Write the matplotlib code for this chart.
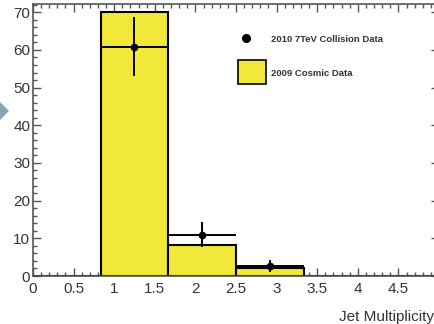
import matplotlib
matplotlib.use("Agg")
import matplotlib.pyplot as plt
from matplotlib.patches import Polygon, Rectangle
from matplotlib.lines import Line2D
from matplotlib.ticker import MultipleLocator

plt.rcParams['font.family'] = ['Liberation Sans', 'DejaVu Sans']

# histogram of 2009 cosmic data (6 bins over 0..5)
bin_edges = [0.0, 0.833, 1.667, 2.5, 3.333, 4.167, 5.0]
cosmic = [0, 70, 8.2, 2.0, 0, 0]

# 2010 7TeV collision data points
coll_x = [1.25, 2.083, 2.917]
coll_y = [60.8, 10.9, 2.7]
coll_err = [7.8, 3.3, 1.6]
coll_xerr = [0.417, 0.417, 0.417]

legend_labels = ['2010 7TeV Collision Data', '2009 Cosmic Data']

W, H = 435, 324
fig = plt.figure(figsize=(W / 100, H / 100), dpi=100)
ax = fig.add_axes([33 / W, 1 - 276 / H, (439 - 33) / W, (276 - 4.3) / H])

ink = '#333333'
yellow = '#f1e83a'
widths = [bin_edges[i + 1] - bin_edges[i] for i in range(len(cosmic))]
ax.bar(bin_edges[:-1], cosmic, width=widths, align='edge',
       color=yellow, edgecolor='black', linewidth=1.5, zorder=2)
ax.errorbar(coll_x, coll_y, xerr=coll_xerr, yerr=coll_err, fmt='o',
            color='black', ms=4.5, elinewidth=1.4, capsize=0, zorder=3)

ax.set_xlim(0, 5)
ax.set_ylim(0, 72.1)
ax.xaxis.set_minor_locator(MultipleLocator(0.1))
ax.yaxis.set_major_locator(MultipleLocator(10))
ax.yaxis.set_minor_locator(MultipleLocator(2))
ax.set_xticks([0, 0.5, 1, 1.5, 2, 2.5, 3, 3.5, 4, 4.5])
ax.set_xticklabels(['0', '0.5', '1', '1.5', '2', '2.5', '3', '3.5', '4', '4.5'])
ax.tick_params(which='both', direction='in', top=True, right=True,
               colors='#555555', labelcolor=ink, labelsize=11, width=1)
ax.tick_params(which='major', length=5.8)
ax.tick_params(which='minor', length=2.9)
ax.tick_params(axis='y', pad=2)
ax.tick_params(axis='x', pad=4)
for s in ax.spines.values():
    s.set_color('#555555')
    s.set_linewidth(1.2)

fig.text(434 / W, 1 - 317 / H, 'Jet Multiplicity', ha='right', va='center',
         fontsize=11, color=ink)

# legend, drawn in figure pixels like the ROOT TLegend
px = lambda x, y: (x / W, 1 - y / H)
fig.add_artist(Line2D([246 / W], [1 - 38 / H], marker='o', color='black',
                      ms=5.5, linestyle='none', transform=fig.transFigure))
fig.add_artist(Rectangle(px(238, 84), 28 / W, 24 / H, transform=fig.transFigure,
                         facecolor=yellow, edgecolor='black', linewidth=1.2))
fig.text(*px(271, 39), legend_labels[0], fontsize=6.8, fontweight='bold',
         color=ink, va='center')
fig.text(*px(271, 73), legend_labels[1], fontsize=6.8, fontweight='bold',
         color=ink, va='center')

# teal navigation chevron at the left edge
fig.patches.append(Polygon([px(0, 102), px(9, 111), px(0, 120)],
                           closed=True, transform=fig.transFigure,
                           facecolor='#7fa9ab', edgecolor='none'))

fig.savefig('out.png', dpi=100)
